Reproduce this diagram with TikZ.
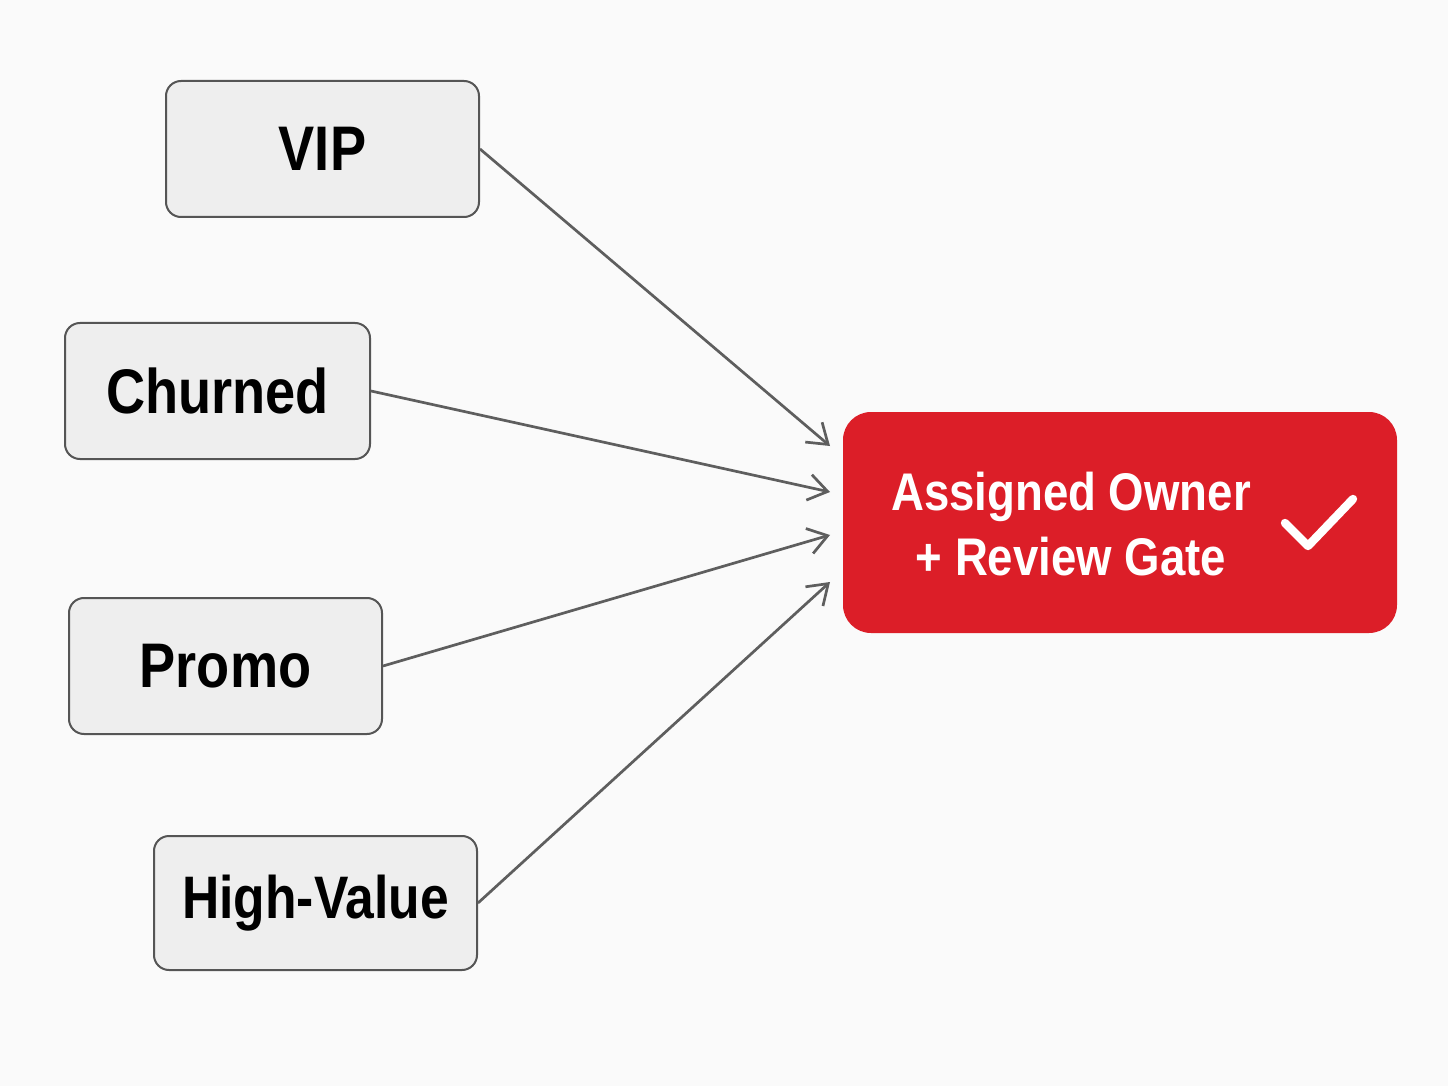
\documentclass[tikz,border=0pt]{standalone}
\usepackage{fontspec}
\setmainfont[FakeStretch=0.86]{Liberation Sans}
\usetikzlibrary{arrows.meta}
\definecolor{boxfill}{HTML}{EEEEEE}
\definecolor{boxline}{HTML}{555555}
\definecolor{arrowcol}{HTML}{5E5E5E}
\definecolor{redfill}{HTML}{DC1E28}
\definecolor{bg}{HTML}{FAFAFA}
\begin{document}
\begin{tikzpicture}[x=0.5pt,y=-0.5pt,
  srcbox/.style={draw=boxline,line width=1pt,fill=boxfill,rounded corners=7.5pt,
    inner sep=0pt,font=\fontsize{31.5}{36}\selectfont\bfseries,text=black},
  conn/.style={draw=arrowcol,line width=1.35pt,-{Straight Barb[length=9.5pt,width=13pt,line width=1.35pt]}}]
\fill[bg] (0,0) rectangle (1448,1086);
\useasboundingbox (0,0) rectangle (1448,1086);
\node[srcbox,minimum width=156.5pt,minimum height=68pt] (vip) at (322.5,149) {VIP};
\node[srcbox,minimum width=152.5pt,minimum height=68pt] (churn) at (217.5,391) {Churned};
\node[srcbox,minimum width=156.5pt,minimum height=68pt] (promo) at (225.5,666) {Promo};
\node[srcbox,minimum width=161.5pt,minimum height=67pt,font=\fontsize{30}{36}\selectfont\bfseries] (high) at (315.5,903) {High-Value};
\node[fill=redfill,rounded corners=14pt,minimum width=277pt,minimum height=110.5pt,inner sep=0pt] (gate) at (1120,522.5) {};
\node[text=white,align=center,font=\fontsize{26.5}{32.5}\selectfont\bfseries] (gtext) at (1071,524) {Assigned Owner\\+ Review Gate};
\coordinate (t1) at (830,446);
\coordinate (t2) at (830,492);
\coordinate (t3) at (830,535);
\coordinate (t4) at (830,582);
\draw[conn] (vip.east) -- (t1);
\draw[conn] (churn.east) -- (t2);
\draw[conn] (promo.east) -- (t3);
\draw[conn] (high.east) -- (t4);
\coordinate (c1) at (1285,523);
\coordinate (c2) at (1308,546);
\coordinate (c3) at (1353,499);
\draw[white,line width=4.2pt,line cap=round,line join=round] (c1) -- (c2) -- (c3);
\end{tikzpicture}
\end{document}
